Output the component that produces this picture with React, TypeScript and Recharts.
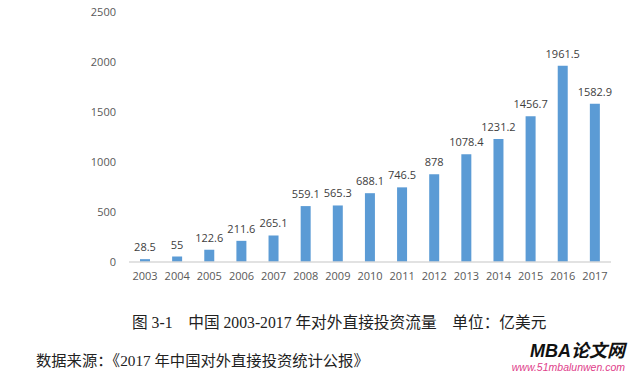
import { Bar, BarChart, LabelList, XAxis, YAxis } from "recharts";

const years = ["2003", "2004", "2005", "2006", "2007", "2008", "2009", "2010", "2011", "2012", "2013", "2014", "2015", "2016", "2017"];
const flows = [28.5, 55, 122.6, 211.6, 265.1, 559.1, 565.3, 688.1, 746.5, 878, 1078.4, 1231.2, 1456.7, 1961.5, 1582.9];
const yTicks = [0, 500, 1000, 1500, 2000, 2500];

const data = years.map((year, i) => ({ year, value: flows[i] }));

const serif = '"Liberation Serif", "Noto Sans CJK SC", serif';

export default function App() {
  return (
    <div style={{ position: "absolute", left: 0, top: 0, width: 629, height: 374, background: "#fff" }}>
      <BarChart
        width={629}
        height={290}
        data={data}
        margin={{ top: 12, right: 18, bottom: 0, left: 89 }}
      >
        <XAxis
          dataKey="year"
          tickLine={false}
          tickSize={0}
          tickMargin={10}
          height={28}
          interval={0}
          axisLine={{ stroke: "#d9d9d9", strokeWidth: 1.5 }}
          tick={{ fill: "#595959", fontSize: 11, fontFamily: '"Open Sans", sans-serif' }}
        />
        <YAxis
          domain={[0, 2500]}
          ticks={yTicks}
          width={40}
          axisLine={false}
          tickLine={false}
          tickSize={0}
          tickMargin={13}
          tick={{ fill: "#595959", fontSize: 11, fontFamily: '"Open Sans", sans-serif' }}
        />
        <Bar dataKey="value" fill="#5b9bd5" barSize={10} isAnimationActive={false}>
          <LabelList
            dataKey="value"
            position="top"
            offset={8}
            fill="#404040"
            fontSize={11}
            fontFamily='"Open Sans", sans-serif'
          />
        </Bar>
      </BarChart>
      <div
        style={{
          position: "absolute",
          left: 132,
          top: 310,
          fontFamily: serif,
          fontSize: 15.7,
          color: "#222",
          whiteSpace: "pre",
        }}
      >
        {"图 3-1    中国 2003-2017 年对外直接投资流量    单位：亿美元"}
      </div>
      <div
        style={{
          position: "absolute",
          left: 36,
          top: 348,
          fontFamily: serif,
          fontSize: 15.3,
          color: "#222",
          whiteSpace: "pre",
        }}
      >
        {"数据来源：《2017 年中国对外直接投资统计公报》"}
      </div>
      <div
        style={{
          position: "absolute",
          right: 4,
          top: 341,
          textAlign: "right",
          fontFamily: '"Liberation Sans", "Noto Sans CJK SC", sans-serif',
        }}
      >
        <div style={{ fontSize: 18, fontWeight: 700, fontStyle: "italic", color: "#111", lineHeight: "20px" }}>MBA论文网</div>
        <div style={{ fontSize: 10.5, fontStyle: "italic", color: "#e0408a", lineHeight: "12px" }}>www.51mbalunwen.com</div>
      </div>
    </div>
  );
}
